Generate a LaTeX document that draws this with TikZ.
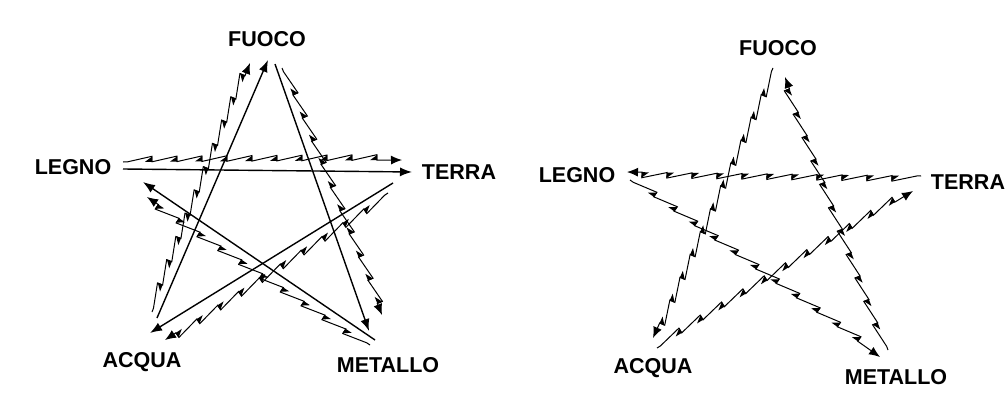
\documentclass[tikz,border=0pt]{standalone}
\usepackage{fontspec}
\setmainfont{Liberation Sans}
\usetikzlibrary{arrows.meta, decorations.pathmorphing, decorations.markings}

\newcommand{\sawdraw}[2]{%
  \draw[zz] (#1) -- (#2);
  \path[zzbarb] (#1) -- (#2);}

\begin{document}
\begin{tikzpicture}[x=1pt, y=-1pt,
  lbl/.style={inner sep=0pt, font=\bfseries\fontsize{21.5}{22}\selectfont},
  ke/.style={line width=1.4pt, -{Latex[length=12pt, width=9pt]}},
  zz/.style={line width=1pt, -{Latex[length=11pt, width=9pt]}, decorate,
    decoration={saw, segment length=25pt, amplitude=5.5pt, pre length=4pt, post length=12pt}},
  zzbarb/.style={decorate, decoration={markings,
    mark=between positions 29pt and -12pt step 25pt with {\fill (0.5pt,0) -- (0.5pt,5.5pt) -- (-7pt,0) -- cycle;}}}]
  \useasboundingbox (0,0) rectangle (1008,401);
  \begin{scope}
    \node[lbl] (fuocoL) at (267,39) {FUOCO};
    \node[lbl] (legnoL) at (73,167) {LEGNO};
    \node[lbl] (terraL) at (459,172) {TERRA};
    \node[lbl] (acquaL) at (142,362) {ACQUA};
    \node[lbl] (metalloL) at (388,365) {METALLO};
    \coordinate (kLeg) at (123,169);
    \coordinate (kTer) at (412,172);
    \coordinate (kTer2) at (393,183);
    \coordinate (kAcq) at (150,333);
    \coordinate (kAcq2) at (157,318);
    \coordinate (kFuo) at (268,60);
    \coordinate (kFuo2) at (275,64);
    \coordinate (kMet) at (369,331);
    \coordinate (kMet2) at (375,340);
    \coordinate (kLeg2) at (143,182);
    \draw[ke] (kLeg) -- (kTer);
    \draw[ke] (kTer2) -- (kAcq);
    \draw[ke] (kAcq2) -- (kFuo);
    \draw[ke] (kFuo2) -- (kMet);
    \draw[ke] (kMet2) -- (kLeg2);
    \coordinate (zLeg) at (123,162);
    \coordinate (zTer) at (402,160);
    \coordinate (zTer2) at (388,193);
    \coordinate (zAcq) at (165,340);
    \coordinate (zAcq2) at (152,312);
    \coordinate (zFuo) at (250,63);
    \coordinate (zFuo2) at (282,68);
    \coordinate (zMet) at (382,315);
    \coordinate (zMet2) at (370,345);
    \coordinate (zLeg2) at (147,197);
    \sawdraw{zLeg}{zTer}
    \sawdraw{zTer2}{zAcq}
    \sawdraw{zAcq2}{zFuo}
    \sawdraw{zFuo2}{zMet}
    \sawdraw{zMet2}{zLeg2}
  \end{scope}
  \begin{scope}
    \node[lbl] (fuocoR) at (778,48) {FUOCO};
    \node[lbl] (legnoR) at (577,175) {LEGNO};
    \node[lbl] (terraR) at (968,182) {TERRA};
    \node[lbl] (acquaR) at (653,368) {ACQUA};
    \node[lbl] (metalloR) at (896,377) {METALLO};
    \coordinate (wTer) at (921,176);
    \coordinate (wLeg) at (627,172);
    \coordinate (wLeg2) at (630,180);
    \coordinate (wMet) at (880,357);
    \coordinate (wMet2) at (888,350);
    \coordinate (wFuo) at (785,77);
    \coordinate (wFuo2) at (773,68);
    \coordinate (wAcq) at (653,338);
    \coordinate (wAcq2) at (657,348);
    \coordinate (wTer2) at (913,191);
    \sawdraw{wTer}{wLeg}
    \sawdraw{wLeg2}{wMet}
    \sawdraw{wMet2}{wFuo}
    \sawdraw{wFuo2}{wAcq}
    \sawdraw{wAcq2}{wTer2}
  \end{scope}
\end{tikzpicture}
\end{document}
